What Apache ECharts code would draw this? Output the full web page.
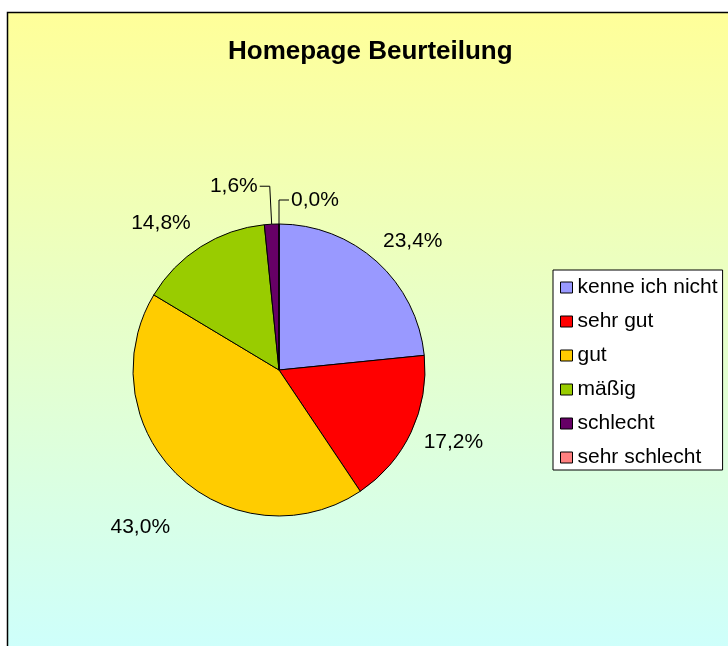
<!DOCTYPE html>
<html>
<head>
<meta charset="utf-8">
<script src="https://cdn.jsdelivr.net/npm/echarts@6/dist/echarts.min.js"></script>
<style>
  html, body { margin: 0; padding: 0; background: #fff; }
  #chart { width: 728px; height: 646px; }
</style>
</head>
<body>
<div id="chart"></div>
<script>
// Homepage Beurteilung - Anteile in %
const categories = ['kenne ich nicht', 'sehr gut', 'gut', 'mäßig', 'schlecht', 'sehr schlecht']
const shares = [23.4, 17.2, 43.0, 14.8, 1.6, 0.0]
const sliceColors = ['#9999FF', '#FF0000', '#FFCC00', '#99CC00', '#660066', '#FF8080']

const font = 'Liberation Sans, Arial, sans-serif'

// kleine Korrektur der Beschriftung (wie im Excel-Original)
const labelShift = [[-6, -9], [-3, 4], [4, 41], [0, -11], null, null]

const pieData = categories.map((name, i) => {
  const item = { name: name, value: shares[i] }
  if (shares[i] < 5) {
    // kleine Segmente mit Führungslinie
    item.labelLine = { show: true, length: i === 4 ? 38 : 24, length2: 10 }
  }
  return item
})

const myChart = echarts.init(document.getElementById('chart'))

const option = {
  animation: false,
  color: sliceColors,
  graphic: [{
    type: 'rect',
    z: 0,
    silent: true,
    shape: { x: 7.5, y: 12.5, width: 740, height: 660 },
    style: {
      fill: new echarts.graphic.LinearGradient(0, 0, 0, 1, [
        { offset: 0, color: '#FFFF99' },
        { offset: 1, color: '#CCFFFF' }
      ]),
      stroke: '#000',
      lineWidth: 1.5
    }
  }],
  title: {
    text: 'Homepage Beurteilung',
    left: 223,
    top: 34,
    textStyle: { fontFamily: font, fontSize: 26, fontWeight: 'bold', color: '#000' }
  },
  legend: {
    orient: 'vertical',
    left: 553,
    top: 270,
    padding: [7, 5, 2, 7],
    backgroundColor: '#fff',
    borderColor: '#000',
    borderWidth: 1,
    borderRadius: 0,
    icon: 'rect',
    itemWidth: 12,
    itemHeight: 11,
    itemGap: 13,
    itemStyle: { borderColor: '#000', borderWidth: 1 },
    textStyle: { fontFamily: font, fontSize: 21, lineHeight: 20, color: '#000' },
    data: categories
  },
  series: [{
    type: 'pie',
    center: [279, 370],
    radius: 146,
    startAngle: 90,
    clockwise: true,
    avoidLabelOverlap: false,
    itemStyle: { borderColor: '#000', borderWidth: 1 },
    emphasis: { disabled: true },
    label: {
      show: true,
      position: 'outside',
      distanceToLabelLine: 2,
      fontFamily: font,
      fontSize: 21,
      color: '#000',
      formatter: p => p.value.toFixed(1).replace('.', ',') + '%'
    },
    labelLine: {
      show: false,
      length: 15,
      length2: 0,
      smooth: false,
      lineStyle: { color: '#000', width: 1 }
    },
    labelLayout: p => {
      const s = labelShift[p.dataIndex]
      return s ? { dx: s[0], dy: s[1] } : {}
    },
    data: pieData
  }]
}

myChart.setOption(option)
window.onresize = () => {
  myChart.resize()
}
</script>
</body>
</html>
